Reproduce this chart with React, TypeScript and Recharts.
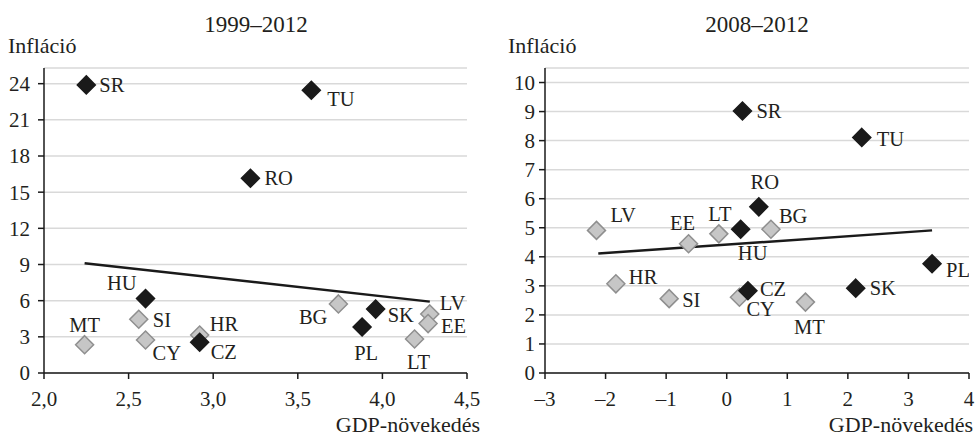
import { ScatterChart, Scatter, XAxis, YAxis, CartesianGrid, ReferenceLine } from "recharts";

// 1999–2012
const countries1 = ["SR", "TU", "RO", "HU", "SI", "CY", "MT", "HR", "CZ", "BG", "SK", "PL", "LV", "EE", "LT"];
const gdp1 = [2.25, 3.58, 3.22, 2.6, 2.56, 2.6, 2.24, 2.92, 2.92, 3.74, 3.96, 3.88, 4.28, 4.27, 4.19];
const infl1 = [23.9, 23.45, 16.15, 6.17, 4.46, 2.74, 2.35, 3.15, 2.55, 5.73, 5.3, 3.82, 4.9, 4.1, 2.82];
const trendX1 = [2.24, 4.28];
const trendY1 = [9.1, 5.92];
const xTicks1 = [2, 2.5, 3, 3.5, 4, 4.5];
const yTicks1 = [0, 3, 6, 9, 12, 15, 18, 21, 24];

// 2008–2012
const countries2 = ["SR", "TU", "RO", "LV", "EE", "LT", "HU", "BG", "HR", "SI", "CY", "CZ", "MT", "SK", "PL"];
const gdp2 = [0.26, 2.23, 0.53, -2.15, -0.63, -0.13, 0.23, 0.73, -1.83, -0.95, 0.21, 0.35, 1.3, 2.13, 3.39];
const infl2 = [9.02, 8.11, 5.72, 4.91, 4.45, 4.79, 4.95, 4.95, 3.07, 2.56, 2.61, 2.83, 2.44, 2.92, 3.76];
const trendX2 = [-2.12, 3.39];
const trendY2 = [4.11, 4.91];
const xTicks2 = [-3, -2, -1, 0, 1, 2, 3, 4];
const yTicks2 = [0, 1, 2, 3, 4, 5, 6, 7, 8, 9, 10];

const darkCountries = ["SR", "TU", "RO", "HU", "CZ", "SK", "PL"];

type Anchor = "start" | "middle" | "end";
// label placement relative to the marker: dx, dy (baseline), anchor
const labelPos1: Record<string, [number, number, Anchor]> = {
  SR: [13, 7, "start"],
  TU: [16, 16, "start"],
  RO: [14, 7, "start"],
  HU: [-9, -9, "end"],
  SI: [14, 8, "start"],
  CY: [7, 20, "start"],
  MT: [0, -13, "middle"],
  HR: [10, -4, "start"],
  CZ: [11, 17, "start"],
  BG: [-11, 20, "end"],
  SK: [12, 13, "start"],
  PL: [4, 33, "middle"],
  LV: [10, -4, "start"],
  EE: [13, 9, "start"],
  LT: [4, 30, "middle"],
};
const labelPos2: Record<string, [number, number, Anchor]> = {
  SR: [14, 7, "start"],
  TU: [15, 9, "start"],
  RO: [6, -18, "middle"],
  LV: [14, -8, "start"],
  EE: [-6, -14, "middle"],
  LT: [1, -13, "middle"],
  HU: [12, 31, "middle"],
  BG: [8, -6, "start"],
  HR: [13, 0, "start"],
  SI: [13, 8, "start"],
  CY: [7, 19, "start"],
  CZ: [12, 5, "start"],
  MT: [4, 32, "middle"],
  SK: [14, 7, "start"],
  PL: [14, 13, "start"],
};

const FONT = "Liberation Serif, DejaVu Serif, serif";
const TEXT = "#231f20";

function toPoints(names: string[], xs: number[], ys: number[]) {
  return names.map((name, i) => ({ name, x: xs[i], y: ys[i] }));
}

function makeShape(dark: boolean, pos: Record<string, [number, number, Anchor]>) {
  return (props: any) => {
    const { cx, cy, payload } = props;
    const r = 9;
    const p = pos[payload.name] || [12, 7, "start"];
    return (
      <g>
        <polygon
          points={`${cx},${cy - r} ${cx + r},${cy} ${cx},${cy + r} ${cx - r},${cy}`}
          fill={dark ? "#1a1a1a" : "#c6c6c6"}
          stroke={dark ? "#1a1a1a" : "#8f8f8f"}
          strokeWidth={1.5}
        />
        <text x={cx + p[0]} y={cy + p[1]} textAnchor={p[2]} style={{ fontSize: 20.5, fontFamily: FONT }} fill={TEXT}>
          {payload.name}
        </text>
      </g>
    );
  };
}

interface PanelProps {
  left: number;
  width: number;
  names: string[];
  xs: number[];
  ys: number[];
  trendX: number[];
  trendY: number[];
  xDomain: [number, number];
  yDomain: [number, number];
  xTicks: number[];
  yTicks: number[];
  xFmt: (v: number) => string;
  yAxisWidth: number;
  yTickMargin: number;
  marginRight: number;
  pos: Record<string, [number, number, Anchor]>;
}

function Panel(p: PanelProps) {
  const pts = toPoints(p.names, p.xs, p.ys);
  const light = pts.filter((d) => !darkCountries.includes(d.name));
  const dark = pts.filter((d) => darkCountries.includes(d.name));
  const tickStyle = { fill: TEXT, fontSize: 21, fontFamily: FONT, style: { fontFamily: FONT } };
  return (
    <div style={{ position: "absolute", left: p.left, top: 0 }}>
      <ScatterChart
        width={p.width}
        height={436}
        margin={{ top: 68, right: p.marginRight, bottom: 23, left: 0 }}
        style={{ fontFamily: FONT }}
      >
        <CartesianGrid vertical={false} stroke="#d9d9d9" strokeWidth={1.5} />
        <XAxis
          type="number"
          dataKey="x"
          domain={p.xDomain}
          ticks={p.xTicks}
          tickFormatter={p.xFmt}
          height={40}
          tickSize={6}
          tickMargin={12}
          axisLine={{ stroke: "#1a1a1a", strokeWidth: 1.5 }}
          tickLine={{ stroke: "#1a1a1a", strokeWidth: 1.5 }}
          tick={tickStyle}
          interval={0}
          allowDataOverflow
        />
        <YAxis
          type="number"
          dataKey="y"
          domain={p.yDomain}
          ticks={p.yTicks}
          width={p.yAxisWidth}
          tickSize={6}
          tickMargin={p.yTickMargin}
          axisLine={{ stroke: "#1a1a1a", strokeWidth: 1.5 }}
          tickLine={{ stroke: "#1a1a1a", strokeWidth: 1.5 }}
          tick={tickStyle}
          interval={0}
          allowDataOverflow
        />
        <ReferenceLine
          segment={[
            { x: p.trendX[0], y: p.trendY[0] },
            { x: p.trendX[1], y: p.trendY[1] },
          ]}
          stroke="#1a1a1a"
          strokeWidth={2.5}
        />
        <Scatter data={light} shape={makeShape(false, p.pos)} isAnimationActive={false} />
        <Scatter data={dark} shape={makeShape(true, p.pos)} isAnimationActive={false} />
      </ScatterChart>
    </div>
  );
}

export default function App() {
  const textStyle = { style: { fontFamily: FONT }, fill: TEXT };
  return (
    <div
      style={{ position: "absolute", left: 0, top: 0, width: 975, height: 436, background: "#fff", fontFamily: FONT }}
    >
      <Panel
        left={0}
        width={488}
        names={countries1}
        xs={gdp1}
        ys={infl1}
        trendX={trendX1}
        trendY={trendY1}
        xDomain={[2, 4.5]}
        yDomain={[0, 25.3]}
        xTicks={xTicks1}
        yTicks={yTicks1}
        xFmt={(v) => v.toFixed(1).replace(".", ",")}
        yAxisWidth={44}
        yTickMargin={8}
        marginRight={21}
        pos={labelPos1}
      />
      <Panel
        left={488}
        width={487}
        names={countries2}
        xs={gdp2}
        ys={infl2}
        trendX={trendX2}
        trendY={trendY2}
        xDomain={[-3, 4]}
        yDomain={[0, 10.5]}
        xTicks={xTicks2}
        yTicks={yTicks2}
        xFmt={(v) => String(v).replace("-", "–")}
        yAxisWidth={57}
        yTickMargin={4}
        marginRight={6}
        pos={labelPos2}
      />
      <svg width={975} height={436} style={{ position: "absolute", left: 0, top: 0, pointerEvents: "none" }}>
        <text x={256} y={32} textAnchor="middle" fontSize={23} {...textStyle}>1999–2012</text>
        <text x={757} y={32} textAnchor="middle" fontSize={23} {...textStyle}>2008–2012</text>
        <text x={8} y={53} fontSize={22} {...textStyle}>Infláció</text>
        <text x={508} y={53} fontSize={22} {...textStyle}>Infláció</text>
        <text x={480} y={432} textAnchor="end" fontSize={22} {...textStyle}>GDP-növekedés</text>
        <text x={973} y={432} textAnchor="end" fontSize={22} {...textStyle}>GDP-növekedés</text>
      </svg>
    </div>
  );
}
